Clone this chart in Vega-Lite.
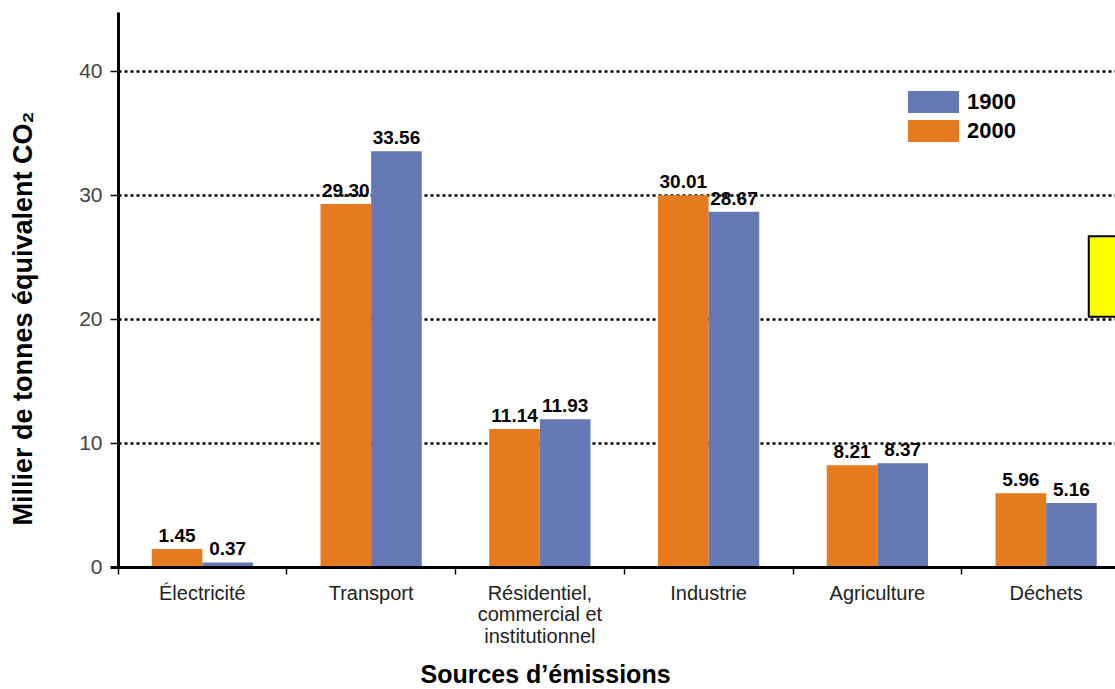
{
  "$schema": "https://vega.github.io/schema/vega-lite/v6.json",
  "autosize": "none",
  "width": 997,
  "height": 555,
  "padding": {"left": 118, "top": 12, "right": 0, "bottom": 122},
  "background": "white",
  "datasets": {
    "bars": [
      {"cat": "Électricité", "year": "2000", "value": 1.45},
      {"cat": "Électricité", "year": "1900", "value": 0.37},
      {"cat": "Transport", "year": "2000", "value": 29.30},
      {"cat": "Transport", "year": "1900", "value": 33.56},
      {"cat": "Résidentiel, commercial et institutionnel", "year": "2000", "value": 11.14},
      {"cat": "Résidentiel, commercial et institutionnel", "year": "1900", "value": 11.93},
      {"cat": "Industrie", "year": "2000", "value": 30.01},
      {"cat": "Industrie", "year": "1900", "value": 28.67},
      {"cat": "Agriculture", "year": "2000", "value": 8.21},
      {"cat": "Agriculture", "year": "1900", "value": 8.37},
      {"cat": "Déchets", "year": "2000", "value": 5.96},
      {"cat": "Déchets", "year": "1900", "value": 5.16}
    ],
    "box": [
      {"cat": "Déchets", "low": 20.2, "high": 26.7}
    ]
  },
  "config": {
    "view": {"stroke": null},
    "axis": {"labelFont": "Liberation Sans", "titleFont": "Liberation Sans"}
  },
  "encoding": {
    "x": {
      "field": "cat",
      "type": "nominal",
      "sort": ["Électricité", "Transport", "Résidentiel, commercial et institutionnel", "Industrie", "Agriculture", "Déchets"],
      "scale": {"range": [0, 1012.5], "paddingInner": 0, "paddingOuter": 0},
      "axis": {
        "title": "Sources d’émissions",
        "titleFontSize": 25,
        "titleFontWeight": "bold",
        "titleColor": "black",
        "titleX": 427,
        "titleY": 115,
        "titleAlign": "center",
        "titleBaseline": "alphabetic",
        "labelAngle": 0,
        "labelFontSize": 20,
        "labelColor": "#222",
        "labelLimit": 0,
        "labelLineHeight": 21.5,
        "labelPadding": 9,
        "labelBaseline": "top",
        "labelExpr": "split(replace(replace(datum.label, ', ', ',|'), ' et ', ' et|'), '|')",
        "bandPosition": 0,
        "tickSize": 7,
        "tickWidth": 1.5,
        "tickColor": "black",
        "domainColor": "black",
        "domainWidth": 3,
        "grid": false
      }
    }
  },
  "layer": [
    {
      "data": {"name": "box"},
      "mark": {"type": "rect", "fill": "#FFFF00", "stroke": "black", "strokeWidth": 2, "xOffset": 127},
      "encoding": {
        "y": {"field": "low", "type": "quantitative", "scale": {"domain": [0, 44.8], "nice": false}},
        "y2": {"field": "high"}
      }
    },
    {
      "data": {"name": "bars"},
      "mark": {"type": "bar"},
      "encoding": {
        "xOffset": {"field": "year", "type": "nominal", "sort": ["2000", "1900"], "scale": {"paddingInner": 0, "paddingOuter": 0.667}},
        "y": {
          "field": "value",
          "type": "quantitative",
          "scale": {"domain": [0, 44.8], "nice": false},
          "axis": {
            "title": "Millier de tonnes équivalent CO₂",
            "titleFontSize": 27,
            "titleFontWeight": "bold",
            "titleColor": "black",
            "titleAngle": -90,
            "titleX": -95,
            "titleY": 306,
            "titleAlign": "center",
            "titleBaseline": "middle",
            "values": [0, 10, 20, 30, 40],
            "labelFontSize": 21,
            "labelColor": "#444",
            "labelPadding": 8,
            "tickSize": 8,
            "tickColor": "black",
            "tickWidth": {"condition": {"test": "datum.value === 0", "value": 3}, "value": 1.5},
            "domainColor": "black",
            "domainWidth": 3,
            "grid": true,
            "gridColor": "black",
            "gridDash": [3, 3],
            "gridWidth": 2.5,
            "gridOpacity": {"condition": {"test": "datum.value === 0", "value": 0}, "value": 1}
          }
        },
        "color": {
          "field": "year",
          "type": "nominal",
          "scale": {"domain": ["1900", "2000"], "range": ["#6579B4", "#E67A1E"]},
          "legend": {
            "orient": "none",
            "legendX": 804.5,
            "legendY": 79,
            "title": null,
            "padding": 0,
            "symbolType": "M-2.32,-1H2.32V1H-2.32Z",
            "symbolSize": 484,
            "symbolStrokeWidth": 0,
            "symbolOpacity": 1,
            "labelFont": "Liberation Sans",
            "labelFontSize": 22,
            "labelFontWeight": "bold",
            "labelColor": "black",
            "labelOffset": 22.5,
            "rowPadding": 7
          }
        }
      }
    },
    {
      "data": {"name": "bars"},
      "mark": {"type": "text", "font": "Liberation Sans", "fontSize": 19, "fontWeight": "bold", "color": "black", "baseline": "alphabetic", "dy": -7},
      "encoding": {
        "xOffset": {"field": "year", "type": "nominal", "sort": ["2000", "1900"], "scale": {"paddingInner": 0, "paddingOuter": 0.667}},
        "y": {"field": "value", "type": "quantitative"},
        "text": {"field": "value", "type": "quantitative", "format": ".2f"}
      }
    }
  ]
}
